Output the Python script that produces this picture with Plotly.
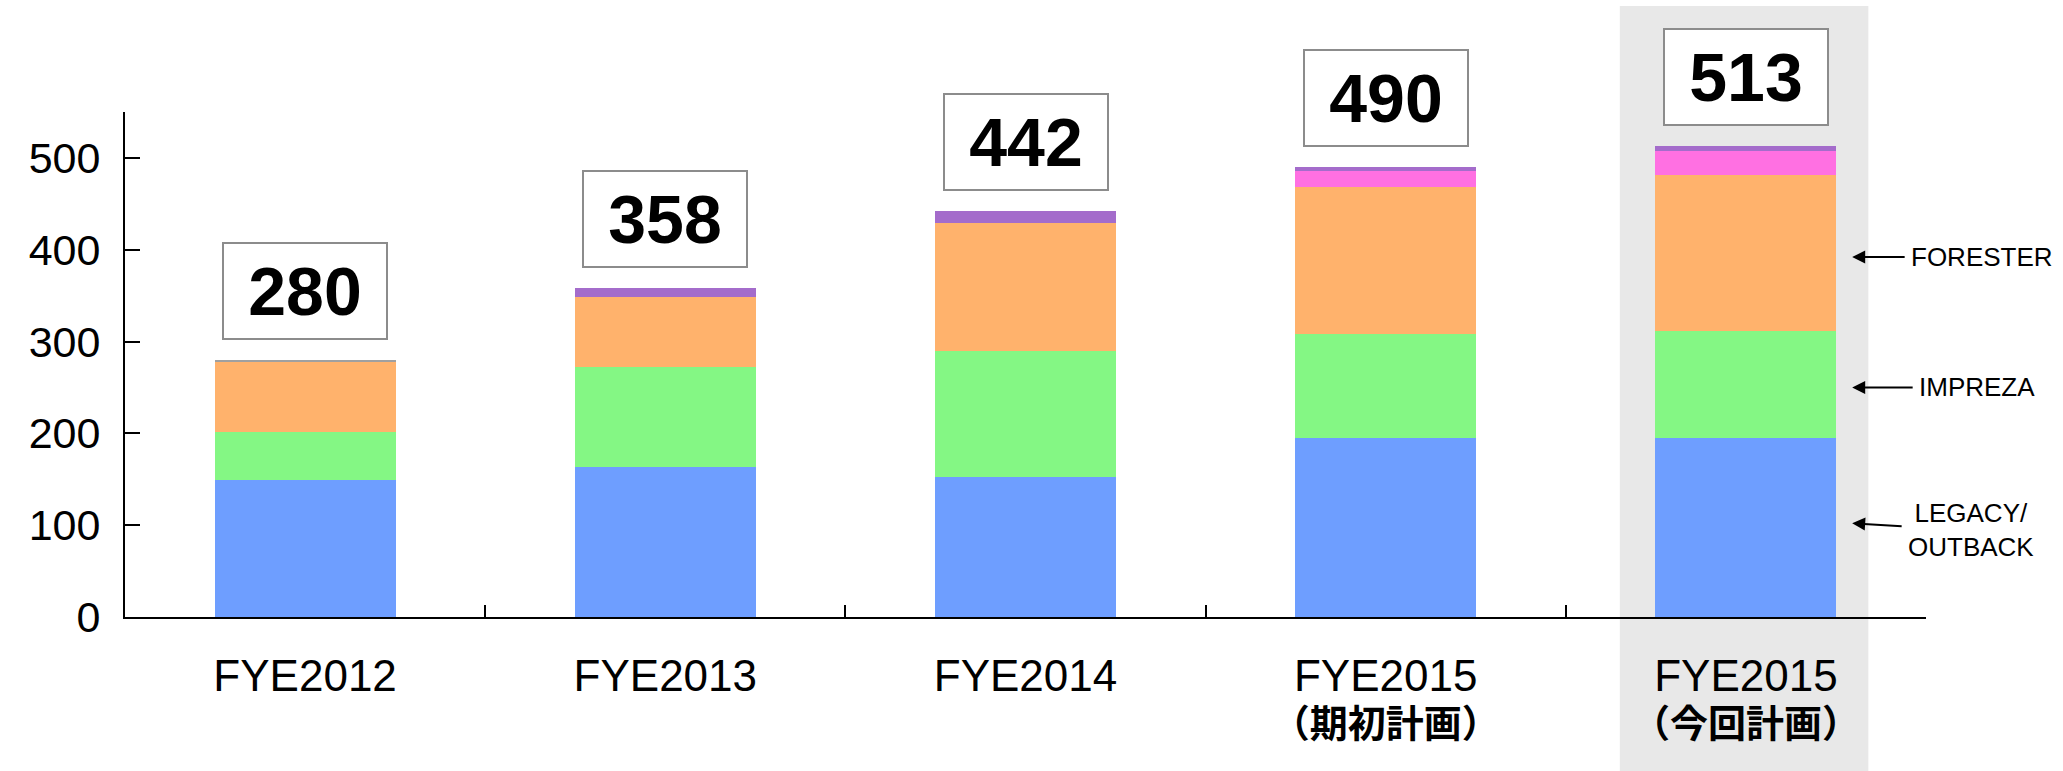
import plotly.graph_objects as go

# ---- data (units: thousand vehicles) ----
categories = ["FYE2012", "FYE2013", "FYE2014", "FYE2015 期初計画", "FYE2015 今回計画"]
x_labels = ["FYE2012", "FYE2013", "FYE2014",
            "FYE2015<br>（期初計画）", "FYE2015<br>（今回計画）"]
legacy_outback = [149, 163, 153, 195, 195]
impreza = [52, 109, 137, 113, 117]
forester = [77, 77, 139, 160, 169]
seg_magenta = [0, 0, 0, 18, 26]
seg_purple = [0, 9, 13, 4, 6]
seg_other = [2, 0, 0, 0, 0]
totals = [280, 358, 442, 490, 513]
y_ticks = [0, 100, 200, 300, 400, 500]
side_labels = ["LEGACY/<br>OUTBACK", "IMPREZA", "FORESTER"]
side_label_y = [102, 250, 392]

FONT = "Liberation Sans, Arial, Noto Sans CJK JP, sans-serif"

fig = go.Figure()

series = [
    ("LEGACY/OUTBACK", legacy_outback, "#6E9EFF"),
    ("IMPREZA", impreza, "#84F784"),
    ("FORESTER", forester, "#FFB26C"),
    ("other A", seg_magenta, "#FF70E2"),
    ("other B", seg_purple, "#A46CCB"),
    ("other C", seg_other, "#A0A0A0"),
]
for name, vals, col in series:
    fig.add_trace(go.Bar(
        x=categories, y=vals, name=name,
        marker=dict(color=col, line=dict(width=0)),
        showlegend=False,
    ))

# total boxes above each bar
for cat, tot in zip(categories, totals):
    fig.add_annotation(
        x=cat, y=tot, xref="x", yref="y",
        text=f"<b>{tot}</b>", showarrow=False,
        yanchor="bottom", yshift=20,
        width=160, height=92, borderpad=1,
        bordercolor="#8C8C8C", borderwidth=2, bgcolor="white",
        font=dict(family=FONT, size=68, color="black"),
    )

# model labels with arrows on the right
side_ax = [119, 125, 130]
for lab, yv, ax in zip(side_labels, side_label_y, side_ax):
    fig.add_annotation(
        x=0.959, y=yv, xref="paper", yref="y",
        text=lab, showarrow=True, ax=ax, ay=0 if "<br>" not in lab else 7,
        align="center", borderpad=6,
        arrowhead=2, arrowsize=1.3, arrowwidth=2, arrowcolor="black",
        font=dict(family=FONT, size=26, color="black"),
    )

# highlight band behind the latest plan
fig.add_shape(type="rect", xref="x", yref="paper",
              x0=3.65, x1=4.34, y0=-0.31, y1=1.21,
              fillcolor="#E8E8E8", line=dict(width=0), layer="below")

# tick text: larger first line, bold Japanese second line
tick_text = []
for lab in x_labels:
    parts = lab.split("<br>")
    txt = f'<span style="font-size:44px">{parts[0]}</span>'
    if len(parts) > 1:
        txt += f'<br><b><span style="font-size:38px">{parts[1]}</span></b>'
    tick_text.append(txt)

fig.update_layout(
    barmode="stack",
    bargap=0.497,
    width=2063, height=771,
    margin=dict(l=125, r=137, t=112, b=154),
    paper_bgcolor="white", plot_bgcolor="rgba(0,0,0,0)",
    font=dict(family=FONT, color="black"),
    xaxis=dict(
        type="category",
        tickmode="array", tickvals=categories, ticktext=tick_text,
        showline=True, linecolor="black", linewidth=2,
        ticks="inside", tickson="boundaries", ticklen=12, tickwidth=2, tickcolor="black",
        tickfont=dict(size=35, family=FONT),
        ticklabelstandoff=30,
        showgrid=False, zeroline=False,
    ),
    yaxis=dict(
        range=[0, 550],
        tickvals=y_ticks,
        showline=True, linecolor="black", linewidth=2,
        ticks="inside", ticklen=15, tickwidth=2, tickcolor="black",
        tickfont=dict(size=43, family=FONT),
        ticklabelstandoff=14,
        showgrid=False, zeroline=False,
    ),
)

fig.write_html("out.html", config={"displayModeBar": False},
               post_script="document.body.style.margin='0';")
